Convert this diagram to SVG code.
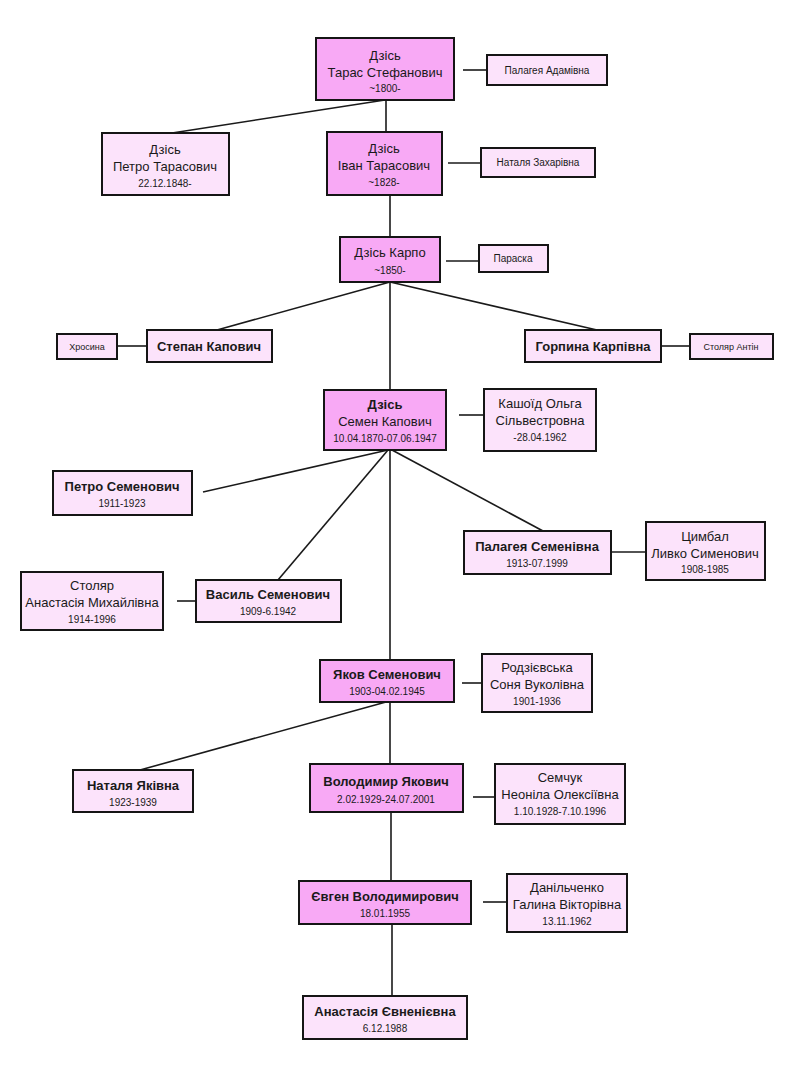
<svg xmlns="http://www.w3.org/2000/svg" width="800" height="1082" viewBox="0 0 800 1082">
<defs>
<style>
.d{fill:#f8a9f5;stroke:#151515;stroke-width:2}
.l{fill:#fce3fb;stroke:#151515;stroke-width:2}
text{font-family:"Liberation Sans","DejaVu Sans",sans-serif;text-anchor:middle;fill:#1a1a1a}
.n{font-size:13px}
.b{font-size:13px;font-weight:bold}
.t{font-size:10px}
.s{font-size:10px}
.x{font-size:9px}
.c{stroke:#1a1a1a;stroke-width:1.6;fill:none}
</style>
</defs>
<rect width="800" height="1082" fill="#fff"/>
<g id="connectors" class="c">
<line x1="385" y1="100" x2="172" y2="133"/>
<line x1="386" y1="100" x2="386" y2="132"/>
<line x1="463" y1="70" x2="487" y2="70"/>
<line x1="448" y1="163" x2="481" y2="163"/>
<line x1="390" y1="195" x2="390" y2="237"/>
<line x1="446" y1="261" x2="479" y2="261"/>
<line x1="390" y1="282" x2="217" y2="330"/>
<line x1="390" y1="282" x2="597" y2="330"/>
<line x1="390" y1="282" x2="390" y2="390"/>
<line x1="117" y1="346" x2="147" y2="346"/>
<line x1="661" y1="346" x2="690" y2="346"/>
<line x1="459" y1="415" x2="484" y2="415"/>
<line x1="388" y1="450" x2="203" y2="492"/>
<line x1="388" y1="450" x2="278" y2="580"/>
<line x1="392" y1="450" x2="543" y2="531"/>
<line x1="390" y1="450" x2="390" y2="660"/>
<line x1="611" y1="552" x2="646" y2="552"/>
<line x1="177" y1="601" x2="196" y2="601"/>
<line x1="462" y1="683" x2="482" y2="683"/>
<line x1="386" y1="702" x2="140" y2="770"/>
<line x1="390" y1="702" x2="390" y2="764"/>
<line x1="473" y1="797" x2="495" y2="797"/>
<line x1="391" y1="812" x2="391" y2="881"/>
<line x1="483" y1="902" x2="507" y2="902"/>
<line x1="392" y1="924" x2="392" y2="996"/>
</g>
<g id="taras"><rect class="d" x="316" y="38" width="138" height="62"/><text class="n" x="385" y="60">Дзісь</text><text class="n" x="385" y="77">Тарас Стефанович</text><text class="t" x="385" y="92">~1800-</text></g>
<g id="palageya-adamivna"><rect class="l" x="487" y="55" width="120" height="30"/><text class="s" x="547" y="74">Палагея Адамівна</text></g>
<g id="petro-tarasovych"><rect class="l" x="102" y="133" width="127" height="62"/><text class="n" x="165" y="154">Дзісь</text><text class="n" x="165" y="171">Петро Тарасович</text><text class="t" x="165" y="187">22.12.1848-</text></g>
<g id="ivan"><rect class="d" x="327" y="132" width="115" height="63"/><text class="n" x="384" y="153">Дзісь</text><text class="n" x="384" y="170">Іван Тарасович</text><text class="t" x="384" y="186">~1828-</text></g>
<g id="natalia-zakharivna"><rect class="l" x="481" y="148" width="114" height="29"/><text class="s" x="538" y="166">Наталя Захарівна</text></g>
<g id="karpo"><rect class="d" x="340" y="237" width="100" height="45"/><text class="n" x="390" y="257">Дзісь Карпо</text><text class="t" x="390" y="274">~1850-</text></g>
<g id="paraska"><rect class="l" x="479" y="245" width="69" height="27"/><text class="s" x="513" y="262">Параска</text></g>
<g id="stepan"><rect class="l" x="147" y="330" width="125" height="32"/><text class="b" x="209" y="351">Степан Капович</text></g>
<g id="khrosyna"><rect class="l" x="57" y="334" width="60" height="25"/><text class="x" x="87" y="350">Хросина</text></g>
<g id="horpyna"><rect class="l" x="525" y="330" width="136" height="32"/><text class="b" x="593" y="351">Горпина Карпівна</text></g>
<g id="stoliar-antin"><rect class="l" x="690" y="334" width="83" height="25"/><text class="x" x="731" y="350">Столяр Антін</text></g>
<g id="semen"><rect class="d" x="324" y="390" width="122" height="60"/><text class="b" x="385" y="409">Дзісь</text><text class="n" x="385" y="426">Семен Капович</text><text class="t" x="385" y="442">10.04.1870-07.06.1947</text></g>
<g id="kashoid"><rect class="l" x="484" y="389" width="112" height="62"/><text class="n" x="540" y="408">Кашоїд Ольга</text><text class="n" x="540" y="425">Сільвестровна</text><text class="t" x="540" y="441">-28.04.1962</text></g>
<g id="petro-semenovych"><rect class="l" x="53" y="471" width="139" height="44"/><text class="b" x="122" y="491">Петро Семенович</text><text class="t" x="122" y="507">1911-1923</text></g>
<g id="palageya-semenivna"><rect class="l" x="464" y="531" width="147" height="43"/><text class="b" x="537" y="551">Палагея Семенівна</text><text class="t" x="537" y="567">1913-07.1999</text></g>
<g id="tsymbal"><rect class="l" x="646" y="522" width="119" height="58"/><text class="n" x="705" y="541">Цимбал</text><text class="n" x="705" y="558">Ливко Сименович</text><text class="t" x="705" y="573">1908-1985</text></g>
<g id="vasyl"><rect class="l" x="196" y="580" width="145" height="42"/><text class="b" x="268" y="599">Василь Семенович</text><text class="t" x="268" y="615">1909-6.1942</text></g>
<g id="stoliar-anastasiia"><rect class="l" x="21" y="572" width="142" height="58"/><text class="n" x="92" y="590">Столяр</text><text class="n" x="92" y="607">Анастасія Михайлівна</text><text class="t" x="92" y="623">1914-1996</text></g>
<g id="yakov"><rect class="d" x="320" y="660" width="134" height="42"/><text class="b" x="387" y="679">Яков Семенович</text><text class="t" x="387" y="695">1903-04.02.1945</text></g>
<g id="rodziievska"><rect class="l" x="482" y="654" width="110" height="58"/><text class="n" x="537" y="672">Родзієвська</text><text class="n" x="537" y="689">Соня Вуколівна</text><text class="t" x="537" y="705">1901-1936</text></g>
<g id="natalia-yakivna"><rect class="l" x="73" y="770" width="120" height="42"/><text class="b" x="133" y="790">Наталя Яківна</text><text class="t" x="133" y="806">1923-1939</text></g>
<g id="volodymyr"><rect class="d" x="310" y="764" width="153" height="48"/><text class="b" x="386" y="786">Володимир Якович</text><text class="t" x="386" y="803">2.02.1929-24.07.2001</text></g>
<g id="semchuk"><rect class="l" x="495" y="764" width="130" height="60"/><text class="n" x="560" y="782">Семчук</text><text class="n" x="560" y="799">Неоніла Олексіївна</text><text class="t" x="560" y="815">1.10.1928-7.10.1996</text></g>
<g id="yevhen"><rect class="d" x="299" y="881" width="172" height="43"/><text class="b" x="385" y="901">Євген Володимирович</text><text class="t" x="385" y="917">18.01.1955</text></g>
<g id="danilchenko"><rect class="l" x="507" y="874" width="120" height="58"/><text class="n" x="567" y="892">Данільченко</text><text class="n" x="567" y="909">Галина Вікторівна</text><text class="t" x="567" y="925">13.11.1962</text></g>
<g id="anastasiia-yevhenivna"><rect class="l" x="303" y="996" width="164" height="43"/><text class="b" x="385" y="1016">Анастасія Євненієвна</text><text class="t" x="385" y="1032">6.12.1988</text></g>
</svg>
